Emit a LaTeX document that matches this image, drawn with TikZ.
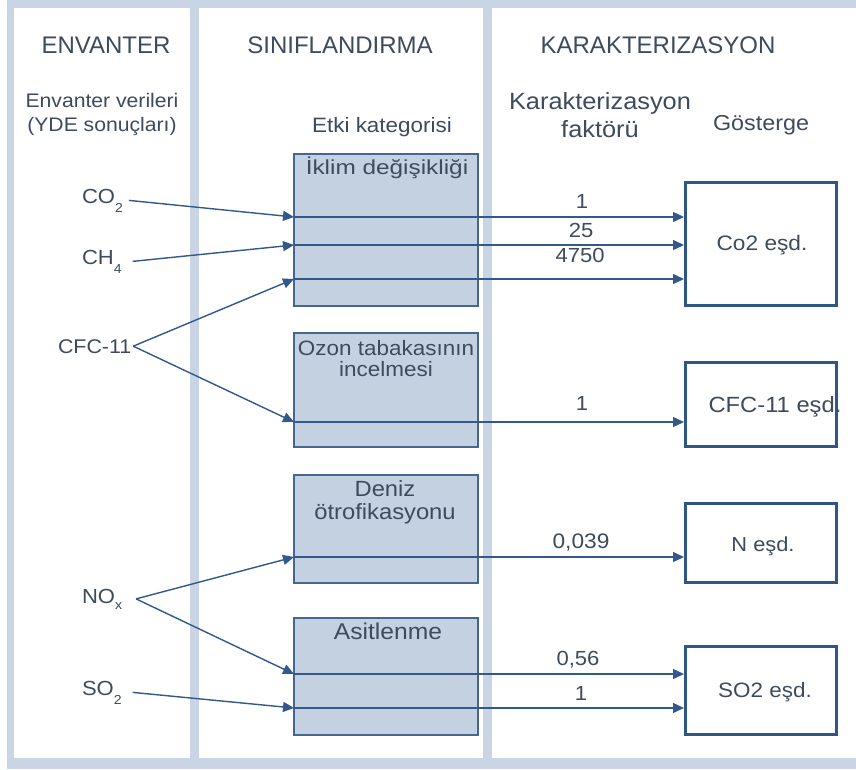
\documentclass[tikz,border=0pt]{standalone}
\usepackage{fontspec}
\setmainfont{Liberation Sans}
\newfontfamily\bodyf{Liberation Sans}[FakeStretch=1.08]
\newfontfamily\widef{Liberation Sans}[FakeStretch=1.2]
\usetikzlibrary{arrows.meta}

\definecolor{band}{HTML}{C9D5E4}
\definecolor{catfill}{HTML}{C4D1E1}
\definecolor{catline}{HTML}{46668F}
\definecolor{ink}{HTML}{3E4B5E}
\definecolor{arrowc}{HTML}{32598A}
\definecolor{eqline}{HTML}{2E5687}

\newcommand{\fs}[1]{\fontsize{#1}{#1}\selectfont}
\newcommand{\sub}[1]{\raisebox{-9pt}{\fs{13}#1}}

\tikzset{
  hdr/.style={anchor=base, text=ink, inner sep=0pt, font=\fs{24}},
  txt/.style={anchor=base, text=ink, inner sep=0pt, font=\bodyf\fs{21}},
  src/.style={anchor=base west, text=ink, inner sep=0pt, outer ysep=0pt, font=\bodyf\fs{20.4}},
  catbox/.style={draw=catline, fill=catfill, line width=1.3pt, minimum width=184pt, outer sep=0pt, inner sep=0pt},
  eqbox/.style={draw=eqline, fill=white, line width=3pt, minimum width=151pt, inner sep=0pt},
  arr/.style={draw=arrowc, line width=1.4pt, -{Triangle[length=11pt,width=10pt]}},
}

\begin{document}
\begin{tikzpicture}[x=1pt,y=-1pt]
\useasboundingbox (0,0) rectangle (856,769);

% frame and the three column panels
\fill[band] (7,0) rectangle (856,769);
\fill[white] (14,8) rectangle (190,758);
\fill[white] (199,8) rectangle (483,758);
\fill[white] (492,8) rectangle (856,758);

% column headings
\node[hdr] (hEnv) at (106,53) {ENVANTER};
\node[hdr] (hSin) at (340,53) {SINIFLANDIRMA};
\node[hdr] (hKar) at (658,53) {KARAKTERIZASYON};

% sub headings
\node[txt, font=\bodyf\fs{19.6}] (envA) at (102,107) {Envanter verileri};
\node[txt, font=\bodyf\fs{19.6}] (envB) at (102,131) {(YDE sonuçları)};
\node[txt, font=\bodyf\fs{20.8}] (etki) at (382,132) {Etki kategorisi};
\node[txt, font=\bodyf\fs{23.5}] (karA) at (600,109) {Karakterizasyon};
\node[txt, font=\bodyf\fs{23.5}] (karB) at (600,137) {faktörü};
\node[txt, font=\bodyf\fs{21.6}] (gos) at (761,130) {Gösterge};

% inventory flows (west anchors sit one outer sep left of the text)
\node[src, outer xsep=6pt]  (co2) at (76,203) {CO\sub{2}};
\node[src, outer xsep=11pt] (ch4) at (71,264) {CH\sub{4}};
\node[src, font=\bodyf\fs{19.8}, outer xsep=2pt] (cfc) at (56,353) {CFC-11};
\node[src, outer xsep=14pt] (nox) at (68,603) {NO\raisebox{-6pt}{\fs{13}x}};
\node[src, outer xsep=11pt] (so2) at (71,695) {SO\sub{2}};

% impact categories
\node[catbox, minimum height=152pt] (klim)  at (386,230) {};
\node[catbox, minimum height=114pt] (ozon)  at (386,390) {};
\node[catbox, minimum height=108pt] (deniz) at (386,529) {};
\node[catbox, minimum height=117pt] (asit)  at (386,676.5) {};
\node[txt, font=\widef\fs{20.3}] (tKlim) at (387,174) {İklim değişikliği};
\node[txt, font=\bodyf\fs{20.8}] (tOzA) at (386,355) {Ozon tabakasının};
\node[txt, font=\bodyf\fs{20.8}] (tOzB) at (386,376) {incelmesi};
\node[txt, font=\bodyf\fs{22}] (tDenA) at (385,496) {Deniz};
\node[txt, font=\bodyf\fs{22}] (tDenB) at (385,519) {ötrofikasyonu};
\node[txt, font=\bodyf\fs{22.8}] (tAsit) at (388,639) {Asitlenme};

% indicators
\node[eqbox, minimum height=123pt] (co2eq) at (761,244) {};
\node[eqbox, minimum height=84pt]  (cfceq) at (761,404.5) {};
\node[eqbox, minimum height=79pt]  (neq)   at (761,543) {};
\node[eqbox, minimum height=88pt]  (so2eq) at (761,690.5) {};
\node[txt] (tCo2eq) at (762,250) {Co2 eşd.};
\node[txt, font=\bodyf\fs{22}] (tCfceq) at (775,412) {CFC-11 eşd.};
\node[txt, font=\bodyf\fs{20.2}] (tNeq) at (763,551) {N eşd.};
\node[txt, font=\bodyf\fs{20.8}] (tSo2eq) at (765,697) {SO2 eşd.};

% entry points on the category boxes
\coordinate (k1) at (klim.west |- 0,217);
\coordinate (k2) at (klim.west |- 0,245);
\coordinate (k3) at (klim.west |- 0,279);
\coordinate (o1) at (ozon.west |- 0,422);
\coordinate (d1) at (deniz.west |- 0,557);
\coordinate (a1) at (asit.west |- 0,674);
\coordinate (a2) at (asit.west |- 0,708);

% classification arrows
\draw[arr] (co2.east) -- (k1);
\draw[arr] (ch4.east) -- (k2);
\draw[arr] (cfc.east) -- (k3);
\draw[arr] (cfc.east) -- (o1);
\draw[arr] (nox.east) -- (d1);
\draw[arr] (nox.east) -- (a1);
\draw[arr] (so2.east) -- (a2);

% characterisation arrows
\draw[arr] (k1) -- (k1 -| co2eq.west);
\draw[arr] (k2) -- (k2 -| co2eq.west);
\draw[arr] (k3) -- (k3 -| co2eq.west);
\draw[arr] (o1) -- (o1 -| cfceq.west);
\draw[arr] (d1) -- (d1 -| neq.west);
\draw[arr] (a1) -- (a1 -| so2eq.west);
\draw[arr] (a2) -- (a2 -| so2eq.west);

% characterisation factors
\node[txt, font=\bodyf\fs{20.4}] (f1) at (582,208) {1};
\node[txt, font=\bodyf\fs{20.4}] (f2) at (581,237) {25};
\node[txt, font=\bodyf\fs{20.4}] (f3) at (580,262) {4750};
\node[txt, font=\bodyf\fs{20.4}] (f4) at (582,410) {1};
\node[txt, font=\bodyf\fs{21}] (f5) at (581,548) {0,039};
\node[txt, font=\bodyf\fs{20.4}] (f6) at (578,665) {0,56};
\node[txt, font=\bodyf\fs{20.4}] (f7) at (581,700) {1};
\end{tikzpicture}
\end{document}
